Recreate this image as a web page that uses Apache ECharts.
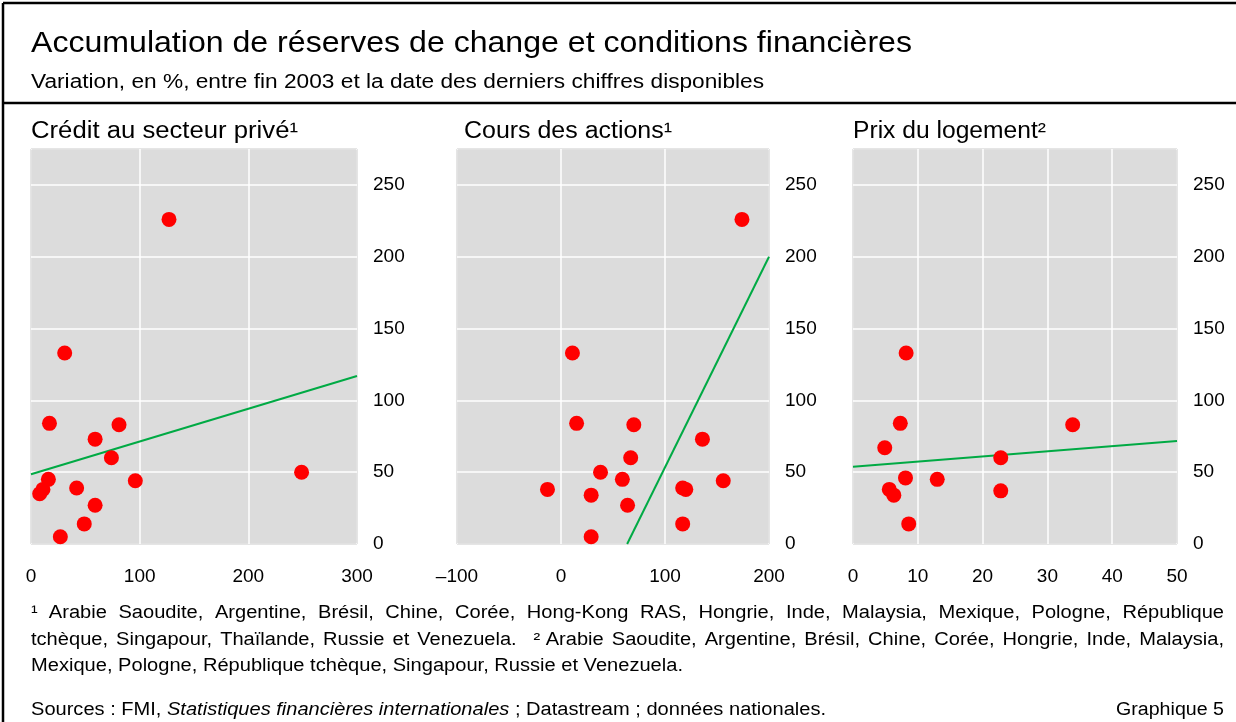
<!DOCTYPE html>
<html>
<head>
<meta charset="utf-8">
<script src="https://cdn.jsdelivr.net/npm/echarts@6/dist/echarts.min.js"></script>
<style>
	html, body { margin: 0; padding: 0; background: #fff; }
	#chart { width: 1236px; height: 722px; }
</style>
</head>
<body>
<div id="chart"></div>
<script>
// points: [x, y] — x = variation de la variable, y = accumulation de réserves
var creditPoints = [
	[127, 226], [31, 133], [17, 84], [81, 83], [59, 73], [74, 60], [16, 45], [11, 38],
	[8, 35], [42, 39], [96, 44], [59, 27], [49, 14], [27, 5], [249, 50]
];
var creditFit = [[0, 48.6], [300, 117]];

var actionsPoints = [
	[174, 226], [11, 133], [15, 84], [70, 83], [136, 73], [67, 60], [38, 50], [59, 45],
	[-13, 38], [29, 34], [117, 39], [120, 38], [156, 44], [64, 27], [117, 14], [29, 5]
];
var actionsFit = [[63.6, 0], [200, 200]];

var logementPoints = [
	[8.2, 133], [7.3, 84], [33.9, 83], [4.9, 67], [22.8, 60], [8.1, 46], [13, 45],
	[5.6, 38], [6.3, 34], [22.8, 37], [8.6, 14]
];
var logementFit = [[0, 53.7], [50, 71.7]];

var panelTitles = ['Crédit au secteur privé¹', 'Cours des actions¹', 'Prix du logement²'];
var xRanges = [[0, 300, 100], [-100, 200, 100], [0, 50, 10]];

var titleText = 'Accumulation de réserves de change et conditions financières';
var subtitleText = 'Variation, en %, entre fin 2003 et la date des derniers chiffres disponibles';
var noteLines = [
	'¹\u00a0\u00a0Arabie Saoudite, Argentine, Brésil, Chine, Corée, Hong-Kong RAS, Hongrie, Inde, Malaysia, Mexique, Pologne, République',
	'tchèque, Singapour, Thaïlande, Russie et Venezuela.\u00a0\u00a0\u00a0²\u00a0Arabie Saoudite, Argentine, Brésil, Chine, Corée, Hongrie, Inde, Malaysia,',
	'Mexique, Pologne, République tchèque, Singapour, Russie et Venezuela.'
];
var sourcesParts = ['Sources : FMI, ', 'Statistiques financières internationales', ' ; Datastream ; données nationales.'];

var FONT = '"Liberation Sans", Arial, sans-serif';
var grids = [
	{ left: 31, top: 149, width: 326, height: 395 },
	{ left: 457, top: 149, width: 312, height: 395 },
	{ left: 853, top: 149, width: 324, height: 395 }
];

var ctx = document.createElement('canvas').getContext('2d');
function textWidth(text, font)
{
	ctx.font = font;
	return ctx.measureText(text).width;
}
// texte étiré horizontalement pour occuper la même largeur que sur l'original
function fitText(text, font, x, y, width)
{
	return {
		type: 'text', x: x, y: y, scaleX: width / textWidth(text, font),
		style: { text: text, font: font, fill: '#000' }
	};
}

var chart = echarts.init(document.getElementById('chart'));

var xAxes = [], yAxes = [], series = [], graphic = [];
var pointSets = [creditPoints, actionsPoints, logementPoints];
var fitSets = [creditFit, actionsFit, logementFit];
var panelTitleRight = [298, 672, 1046];

grids.forEach(function(g, i)
{
	g.show = true;
	g.backgroundColor = '#dcdcdc';
	g.borderColor = '#333';
	g.borderWidth = 1;

	xAxes.push({
		gridIndex: i, type: 'value',
		min: xRanges[i][0], max: xRanges[i][1], interval: xRanges[i][2],
		axisLine: { show: false }, axisTick: { show: false },
		splitLine: { show: true, lineStyle: { color: '#fff', width: 1.5 } },
		axisLabel: {
			margin: 23, fontSize: 19, color: '#000', fontFamily: FONT,
			formatter: function(v) { return v < 0 ? '\u2013' + Math.abs(v) : String(v); }
		}
	});
	yAxes.push({
		gridIndex: i, type: 'value', position: 'right',
		min: 0, max: 275, interval: 50,
		axisLine: { show: false }, axisTick: { show: false },
		splitLine: { show: true, lineStyle: { color: '#fff', width: 1.5 } },
		axisLabel: { margin: 16, fontSize: 19, color: '#000', fontFamily: FONT, showMaxLabel: false, padding: [3, 0, 0, 0] }
	});
	series.push({
		type: 'line', xAxisIndex: i, yAxisIndex: i,
		data: fitSets[i], symbol: 'none', silent: true,
		lineStyle: { color: '#00aa44', width: 2 }, z: 2
	});
	series.push({
		type: 'scatter', xAxisIndex: i, yAxisIndex: i,
		data: pointSets[i], symbolSize: 15,
		itemStyle: { color: '#ff0000', opacity: 1 }, z: 3
	});
	var tx = i === 1 ? 464 : g.left;
	graphic.push(fitText(panelTitles[i], '23px ' + FONT, tx, 120, panelTitleRight[i] - tx));
});

// cadre et titres
graphic.push(
	{ type: 'line', shape: { x1: 3, y1: 3, x2: 1236, y2: 3 }, style: { stroke: '#000', lineWidth: 2.5 } },
	{ type: 'line', shape: { x1: 3, y1: 3, x2: 3, y2: 722 }, style: { stroke: '#000', lineWidth: 2.5 } },
	{ type: 'line', shape: { x1: 3, y1: 103, x2: 1236, y2: 103 }, style: { stroke: '#000', lineWidth: 2.5 } },
	fitText(titleText, '30px ' + FONT, 31, 29, 881),
	fitText(subtitleText, '19.5px ' + FONT, 31, 73, 733)
);

// notes justifiées
var noteFont = '18px ' + FONT;
var noteScale = 652 / textWidth(noteLines[2], noteFont);
var noteLeft = 31, noteRight = 1224, noteTops = [604, 631, 657];
noteLines.forEach(function(line, li)
{
	if (li === noteLines.length - 1) {
		graphic.push({ type: 'text', x: noteLeft, y: noteTops[li], scaleX: noteScale, style: { text: line, font: noteFont, fill: '#000' } });
		return;
	}
	var words = line.split(' ');
	var total = 0;
	words.forEach(function(w) { total += textWidth(w, noteFont) * noteScale; });
	var gap = (noteRight - noteLeft - total) / (words.length - 1);
	var x = noteLeft;
	words.forEach(function(w)
	{
		graphic.push({ type: 'text', x: x, y: noteTops[li], scaleX: noteScale, style: { text: w, font: noteFont, fill: '#000' } });
		x += textWidth(w, noteFont) * noteScale + gap;
	});
});

// sources
var italicFont = 'italic 18px ' + FONT;
var srcWidth = textWidth(sourcesParts[0], noteFont) + textWidth(sourcesParts[1], italicFont) + textWidth(sourcesParts[2], noteFont);
var srcScale = 795 / srcWidth;
graphic.push(
	{
		type: 'text', x: 31, y: 701, scaleX: srcScale,
		style: {
			text: '{n|' + sourcesParts[0] + '}{i|' + sourcesParts[1] + '}{n|' + sourcesParts[2] + '}',
			rich: {
				n: { fontSize: 18, fontFamily: FONT, fill: '#000' },
				i: { fontSize: 18, fontFamily: FONT, fontStyle: 'italic', fill: '#000' }
			}
		}
	},
	fitText('Graphique 5', noteFont, 1116, 701, 108)
);

chart.setOption({
	animation: false,
	grid: grids,
	xAxis: xAxes,
	yAxis: yAxes,
	series: series,
	graphic: graphic
});
</script>
</body>
</html>
